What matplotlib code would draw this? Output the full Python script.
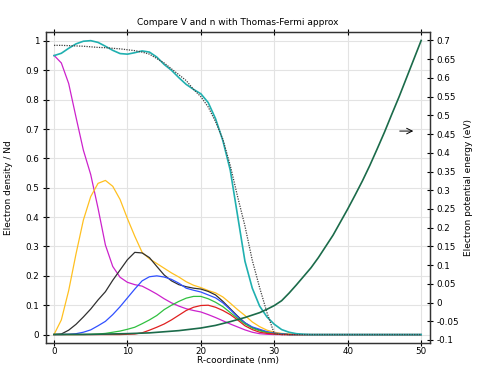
import matplotlib
matplotlib.use("Agg")
import matplotlib.pyplot as plt
import numpy as np

plt.rcParams['font.family'] = ['DejaVu Sans']
plt.rcParams['axes.unicode_minus'] = False

# R-coordinate grid (nm) for densities
r = [0, 1, 2, 3, 4, 5, 6, 7, 8, 9, 10, 11, 12, 13, 14, 15, 16, 17, 18, 19, 20,
     21, 22, 23, 24, 25, 26, 27, 28, 29, 30, 31, 32, 33, 34, 35, 40, 45, 50]

n_total = [0.950, 0.958, 0.975, 0.990, 0.999, 1.001, 0.995, 0.982, 0.968, 0.957, 0.955,
           0.960, 0.966, 0.962, 0.945, 0.920, 0.900, 0.875, 0.852, 0.835, 0.820,
           0.790, 0.735, 0.660, 0.560, 0.405, 0.250, 0.158, 0.097, 0.060, 0.035,
           0.017, 0.008, 0.003, 0.001, 0.0, 0.0, 0.0, 0.0]
n_tf = [0.985, 0.985, 0.984, 0.983, 0.982, 0.980, 0.978, 0.977, 0.975, 0.973, 0.970,
        0.967, 0.962, 0.955, 0.940, 0.925, 0.905, 0.885, 0.865, 0.835, 0.810,
        0.775, 0.725, 0.665, 0.576, 0.470, 0.370, 0.253, 0.160, 0.075, 0.003,
        0.0, 0.0, 0.0, 0.0, 0.0, 0.0, 0.0, 0.0]
n_mode1 = [0.951, 0.925, 0.855, 0.740, 0.628, 0.545, 0.430, 0.305, 0.232, 0.195, 0.178,
           0.170, 0.165, 0.152, 0.138, 0.122, 0.108, 0.097, 0.088, 0.082, 0.077,
           0.068, 0.058, 0.047, 0.036, 0.026, 0.016, 0.008, 0.003, 0.001, 0.0,
           0.0, 0.0, 0.0, 0.0, 0.0, 0.0, 0.0, 0.0]
n_mode2 = [0.0, 0.050, 0.150, 0.275, 0.390, 0.470, 0.515, 0.525, 0.505, 0.460, 0.395,
           0.335, 0.280, 0.258, 0.242, 0.226, 0.210, 0.196, 0.180, 0.168, 0.160,
           0.150, 0.142, 0.128, 0.107, 0.085, 0.065, 0.043, 0.027, 0.015, 0.008,
           0.004, 0.002, 0.0, 0.0, 0.0, 0.0, 0.0, 0.0]
n_mode3 = [0.0, 0.002, 0.015, 0.035, 0.060, 0.087, 0.118, 0.146, 0.185, 0.220, 0.255,
           0.280, 0.278, 0.262, 0.232, 0.203, 0.183, 0.170, 0.163, 0.158, 0.155,
           0.147, 0.135, 0.113, 0.088, 0.063, 0.040, 0.024, 0.015, 0.008, 0.004,
           0.002, 0.0, 0.0, 0.0, 0.0, 0.0, 0.0, 0.0]
n_mode4 = [0.0, 0.0, 0.001, 0.003, 0.008, 0.016, 0.030, 0.045, 0.068, 0.095, 0.125,
           0.155, 0.183, 0.197, 0.200, 0.196, 0.188, 0.175, 0.158, 0.151, 0.145,
           0.135, 0.125, 0.108, 0.085, 0.060, 0.040, 0.026, 0.018, 0.010, 0.005,
           0.003, 0.0, 0.0, 0.0, 0.0, 0.0, 0.0, 0.0]
n_mode5 = [0.0, 0.0, 0.0, 0.0, 0.0, 0.001, 0.002, 0.004, 0.008, 0.012, 0.018,
           0.025, 0.037, 0.050, 0.065, 0.085, 0.100, 0.113, 0.124, 0.130, 0.130,
           0.122, 0.110, 0.095, 0.075, 0.055, 0.036, 0.022, 0.013, 0.007, 0.003,
           0.001, 0.0, 0.0, 0.0, 0.0, 0.0, 0.0, 0.0]
n_mode6 = [0.0, 0.0, 0.0, 0.0, 0.0, 0.0, 0.0, 0.0, 0.0, 0.0, 0.001,
           0.002, 0.006, 0.015, 0.025, 0.036, 0.050, 0.066, 0.082, 0.093, 0.099,
           0.100, 0.093, 0.082, 0.068, 0.050, 0.030, 0.017, 0.008, 0.004, 0.002,
           0.0, 0.0, 0.0, 0.0, 0.0, 0.0, 0.0, 0.0]

# Electron potential energy (eV)
r_v = [0, 5, 10, 13, 15, 17, 20, 22, 24, 26, 28, 29, 30, 31, 32, 33, 34, 35, 36, 37,
       38, 39, 40, 41, 42, 43, 44, 45, 46, 47, 48, 49, 50]
v_pot = [-0.085, -0.085, -0.083, -0.081, -0.078, -0.075, -0.068, -0.061, -0.051, -0.040,
         -0.027, -0.018, -0.008, 0.005, 0.025, 0.047, 0.070, 0.093, 0.120, 0.150,
         0.180, 0.215, 0.250, 0.287, 0.325, 0.366, 0.410, 0.455, 0.503, 0.550,
         0.600, 0.650, 0.700]

x_ticks = [0, 10, 20, 30, 40, 50]
left_ticks = [0, 0.1, 0.2, 0.3, 0.4, 0.5, 0.6, 0.7, 0.8, 0.9, 1]
right_ticks = [-0.1, -0.05, 0, 0.05, 0.1, 0.15, 0.2, 0.25, 0.3, 0.35, 0.4, 0.45,
               0.5, 0.55, 0.6, 0.65, 0.7]

FS = 6.3
fig = plt.figure(figsize=(4.79, 3.66), dpi=100)
ax = fig.add_axes([0.0954, 0.0642, 0.8023, 0.8488])
ax2 = ax.twinx()

ax.set_xlim(-1.13, 51.2)
ax.set_ylim(-0.027, 1.031)
ax2.set_ylim(-0.1067, 0.723)

ax.grid(True, color='#e3e3e3', linewidth=0.8)
ax.set_axisbelow(True)

lw = 0.9
ax.plot(r, n_mode1, color='#cc22cc', lw=lw)
ax.plot(r, n_mode2, color='#ffc020', lw=lw)
ax.plot(r, n_mode3, color='#303030', lw=lw)
ax.plot(r, n_mode4, color='#3050ff', lw=lw)
ax.plot(r, n_mode5, color='#30c040', lw=lw)
ax.plot(r, n_mode6, color='#e02020', lw=lw)
ax.plot(r, n_total, color='#20b0b0', lw=1.2)
ax.plot(r, n_tf, color='#404040', lw=0.9, ls=(0, (1, 1)))

ax2.plot(r_v, v_pot, color='#1b6b4a', lw=1.2)
ax2.annotate('', xy=(49.3, 0.458), xytext=(46.7, 0.458),
             arrowprops=dict(arrowstyle='->', color='black', lw=0.7))

ax.set_xticks(x_ticks)
ax.set_xticklabels([str(t) for t in x_ticks])
ax.set_yticks(left_ticks)
ax.set_yticklabels(['%g' % t for t in left_ticks])
ax2.set_yticks(right_ticks)
ax2.set_yticklabels(['%g' % t for t in right_ticks])

ax.tick_params(axis='both', labelsize=FS, direction='inout', length=5, width=0.8,
               top=True, pad=2)
ax.tick_params(axis='x', which='both', top=True, pad=1)
ax2.tick_params(axis='y', labelsize=FS, direction='inout', length=5, width=0.8, pad=2)

for a in (ax, ax2):
    for s in a.spines.values():
        s.set_color('#333333')
        s.set_linewidth(0.9)

ax.set_title('Compare V and n with Thomas-Fermi approx', fontsize=FS + 0.2, pad=5)
ax.set_xlabel('R-coordinate (nm)', fontsize=FS + 0.2, labelpad=0)
ax.set_ylabel('Electron density / Nd', fontsize=FS + 0.2, labelpad=9)
ax2.set_ylabel('Electron potential energy (eV)', fontsize=FS + 0.2, labelpad=4)

fig.savefig('out.png', dpi=100)
